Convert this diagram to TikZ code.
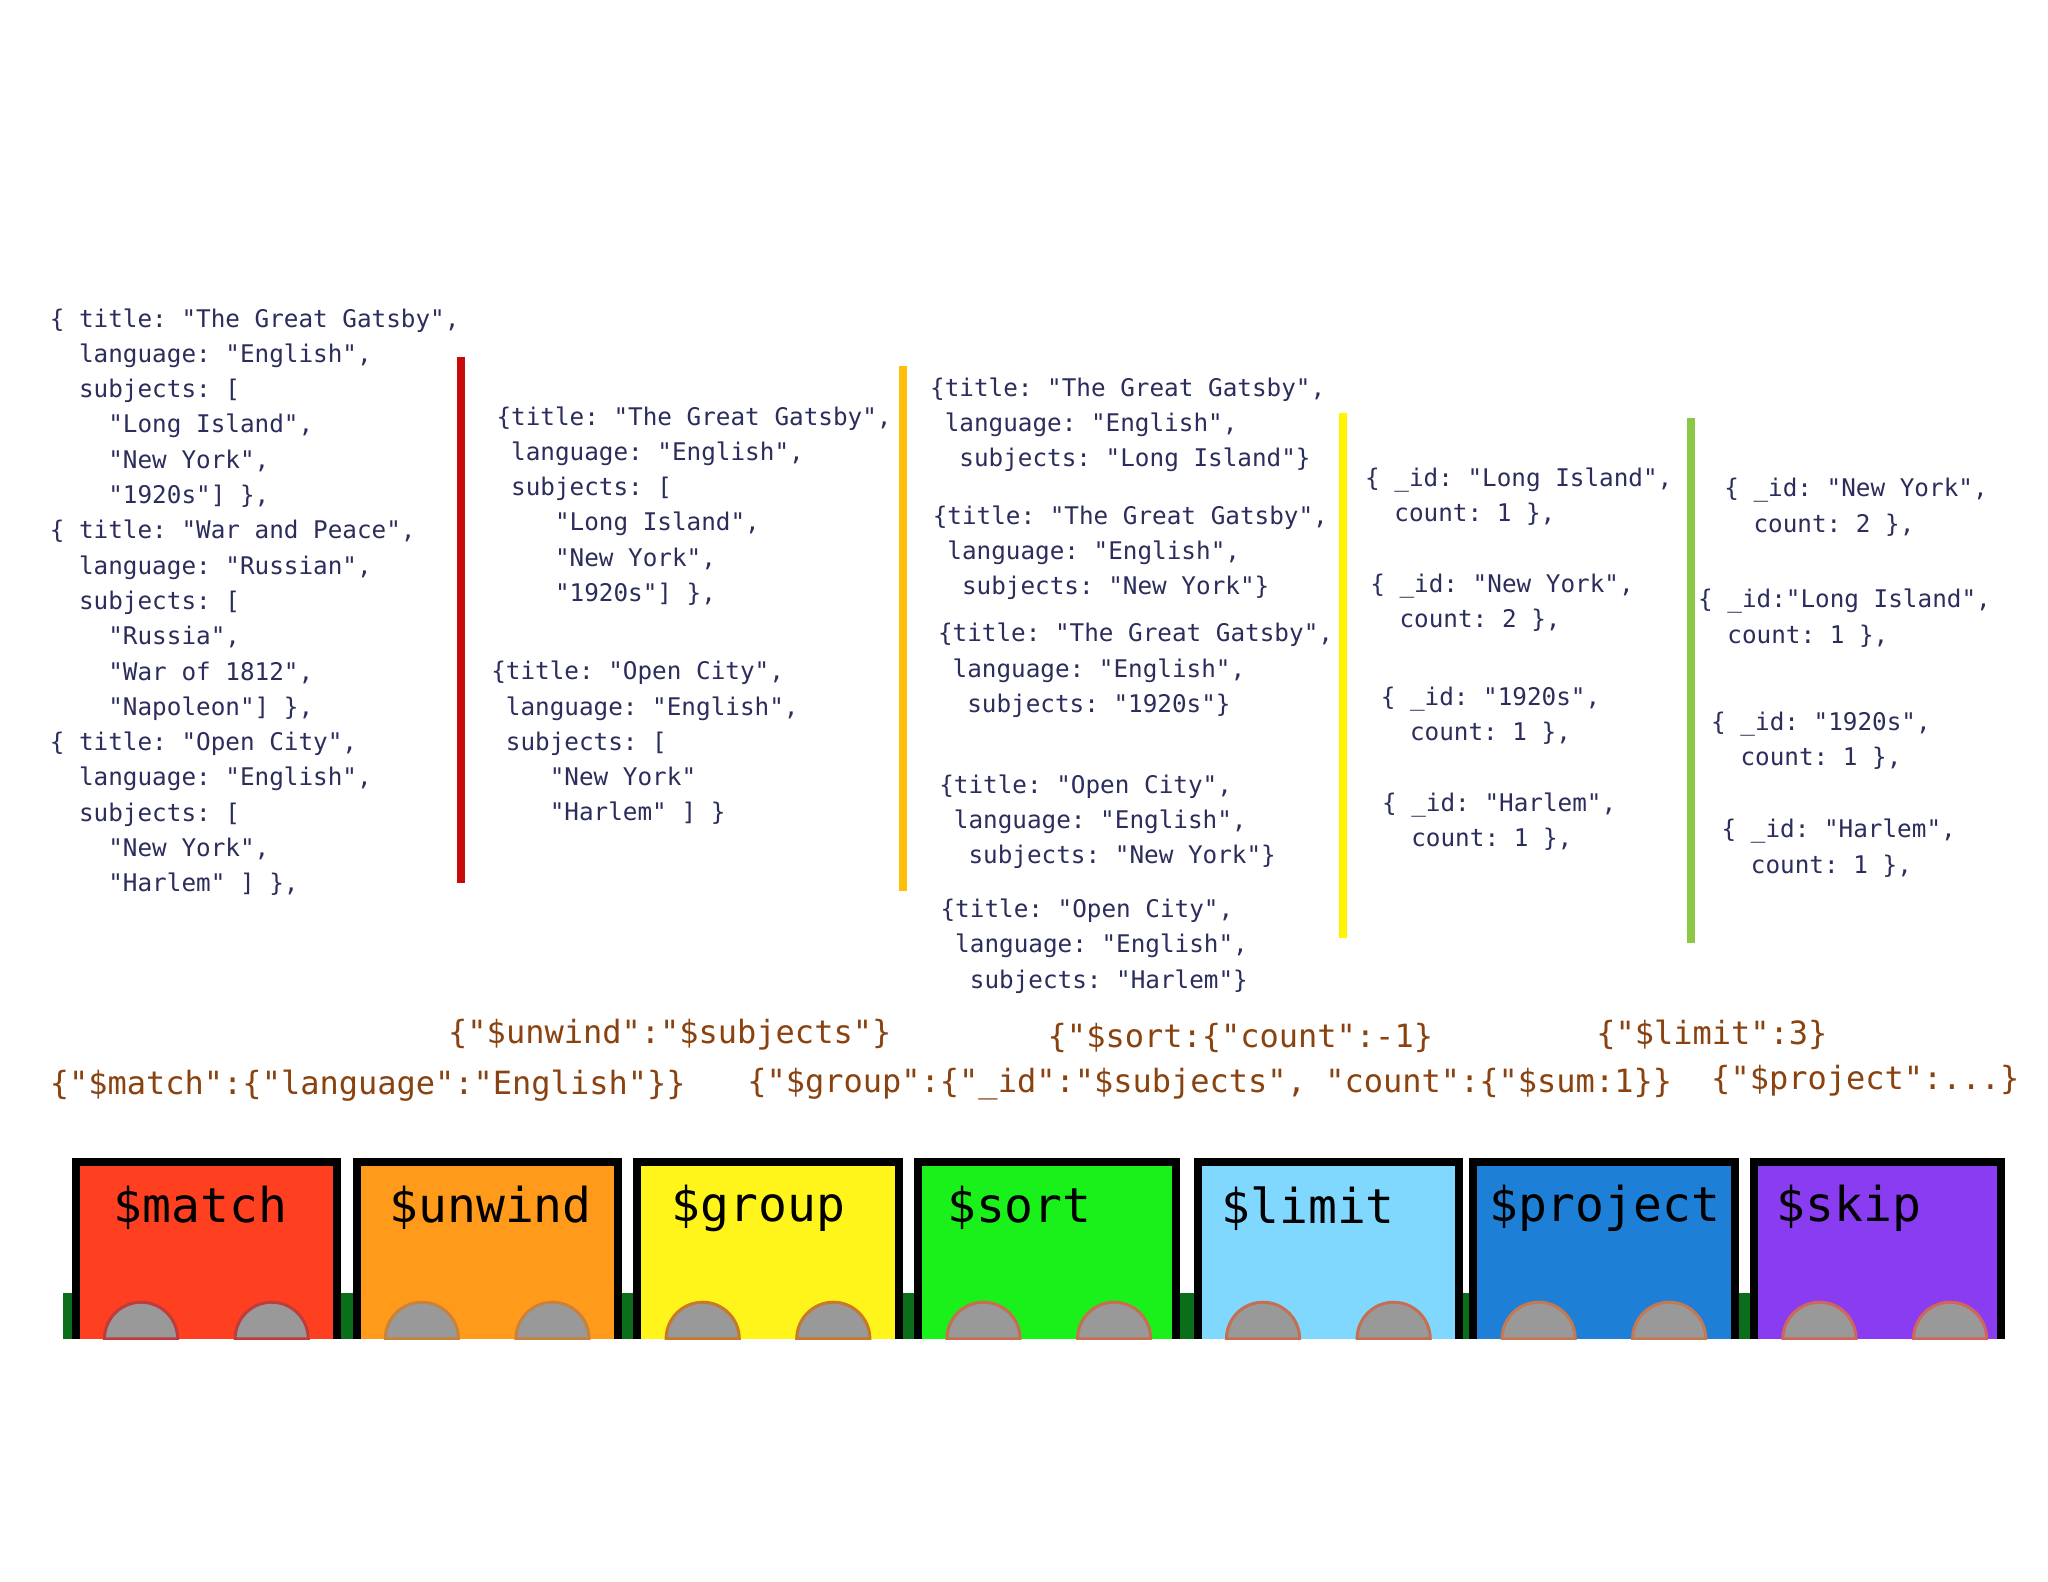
\documentclass[tikz,border=0pt]{standalone}
\usepackage{fontspec}
\setmonofont{DejaVu Sans Mono}
\definecolor{code}{HTML}{2B2D5C}
\definecolor{brown}{HTML}{8A4210}
\definecolor{cgreen}{HTML}{0A6E1A}
\begin{document}
\begin{tikzpicture}[x=1.306pt,y=-1.306pt,
  blk/.style={anchor=north west,inner sep=0pt,align=left,text=code,font=\ttfamily\fontsize{24.3}{35.3}\selectfont},
  op/.style={anchor=west,inner sep=0pt,text=brown,font=\ttfamily\fontsize{32}{34}\selectfont},
  lab/.style={anchor=west,inner sep=0pt,font=\ttfamily\fontsize{48}{52}\selectfont},
  bar/.style={line width=8pt},
  car/.style={line width=8pt,draw=black}]
\useasboundingbox (0,0) rectangle (1568,1211.2);
\fill[white] (0,0) rectangle (1568,1211.2);
% block 1
\node[blk] (b1) at (38,236) {\{ title: "The Great Gatsby",\\
~~language: "English",\\
~~subjects: [\\
~~~~"Long Island",\\
~~~~"New York",\\
~~~~"1920s"] \},\\
\{ title: "War and Peace",\\
~~language: "Russian",\\
~~subjects: [\\
~~~~"Russia",\\
~~~~"War of 1812",\\
~~~~"Napoleon"] \},\\
\{ title: "Open City",\\
~~language: "English",\\
~~subjects: [\\
~~~~"New York",\\
~~~~"Harlem" ] \},};
\draw[bar,draw={rgb,255:red,200;green,10;blue,10}] (353,273) coordinate (r1) -- (353,676) coordinate (r2);
% block 2
\node[blk] (b2a) at (380,311) {\{title: "The Great Gatsby",\\
~language: "English",\\
~subjects: [\\
~~~~"Long Island",\\
~~~~"New York",\\
~~~~"1920s"] \},};
\node[blk] (b2b) at (376,506) {\{title: "Open City",\\
~language: "English",\\
~subjects: [\\
~~~~"New York"\\
~~~~"Harlem" ] \}};
\draw[bar,draw={rgb,255:red,255;green,190;blue,10}] (691,280) coordinate (o1) -- (691,682) coordinate (o2);
% block 3
\node[blk] (b3a) at (712,289) {\{title: "The Great Gatsby",\\~language: "English",\\~~subjects: "Long Island"\}};
\node[blk] (b3b) at (714,387) {\{title: "The Great Gatsby",\\~language: "English",\\~~subjects: "New York"\}};
\node[blk] (b3c) at (718,477) {\{title: "The Great Gatsby",\\~language: "English",\\~~subjects: "1920s"\}};
\node[blk] (b3d) at (719,593) {\{title: "Open City",\\~language: "English",\\~~subjects: "New York"\}};
\node[blk] (b3e) at (720,688) {\{title: "Open City",\\~language: "English",\\~~subjects: "Harlem"\}};
\draw[bar,draw={rgb,255:red,255;green,245;blue,0}] (1028,316) coordinate (y1) -- (1028,718) coordinate (y2);
% block 4
\node[blk] (b4a) at (1045,358) {\{ \_id: "Long Island",\\~~count: 1 \},};
\node[blk] (b4b) at (1049,439) {\{ \_id: "New York",\\~~count: 2 \},};
\node[blk] (b4c) at (1057,526) {\{ \_id: "1920s",\\~~count: 1 \},};
\node[blk] (b4d) at (1058,607) {\{ \_id: "Harlem",\\~~count: 1 \},};
\draw[bar,draw={rgb,255:red,140;green,200;blue,70}] (1295,320) coordinate (g1) -- (1295,722) coordinate (g2);
% block 5
\node[blk] (b5a) at (1320,366) {\{ \_id: "New York",\\~~count: 2 \},};
\node[blk] (b5b) at (1300,451) {\{ \_id:"Long Island",\\~~count: 1 \},};
\node[blk] (b5c) at (1310,545) {\{ \_id: "1920s",\\~~count: 1 \},};
\node[blk] (b5d) at (1318,627) {\{ \_id: "Harlem",\\~~count: 1 \},};
% operators
\node[op] (o-unw) at (343,792) {\{"\$unwind":"\$subjects"\}};
\node[op] (o-sort) at (802,795) {\{"\$sort:\{"count":-1\}};
\node[op] (o-lim) at (1222,792) {\{"\$limit":3\}};
\node[op] (o-match) at (38,831) {\{"\$match":\{"language":"English"\}\}};
\node[op] (o-grp) at (572,830) {\{"\$group":\{"\_id":"\$subjects", "count":\{"\$sum:1\}\}};
\node[op] (o-proj) at (1310,827) {\{"\$project":...\}};
% train
\fill[cgreen] (48,990) rectangle (1532,1025);
\foreach \xa/\xb/\col/\wc/\txt/\nm/\off in {
  58/258/{rgb,255:red,255;green,64;blue,32}/{rgb,255:red,190;green,60;blue,60}/\$match/cm/29,
  273/473/{rgb,255:red,255;green,154;blue,26}/{rgb,255:red,200;green,130;blue,60}/\$unwind/cu/25,
  488/688/{rgb,255:red,255;green,245;blue,26}/{rgb,255:red,200;green,120;blue,40}/\$group/cg/26,
  703/900/{rgb,255:red,26;green,240;blue,26}/{rgb,255:red,200;green,110;blue,80}/\$sort/cs/22,
  917/1117/{rgb,255:red,128;green,216;blue,255}/{rgb,255:red,200;green,110;blue,80}/\$limit/cl/18,
  1128/1328/{rgb,255:red,30;green,127;blue,214}/{rgb,255:red,200;green,120;blue,80}/\$project/cp/12,
  1343/1532/{rgb,255:red,138;green,60;blue,240}/{rgb,255:red,210;green,100;blue,90}/\$skip/ck/17}{
  \fill[fill=\col] (\xa,1025) -- (\xa,890) -- (\xb,890) -- (\xb,1025) -- cycle;
  \draw[car] (\xa,1025) -- (\xa,890) -- (\xb,890) -- (\xb,1025);
  \filldraw[fill=gray!80,draw=\wc,line width=3pt] ({\xa+50},1025) ++(-28,0) arc[start angle=180,end angle=360,radius=28] -- cycle;
  \filldraw[fill=gray!80,draw=\wc,line width=3pt] ({\xa+150},1025) ++(-28,0) arc[start angle=180,end angle=360,radius=28] -- cycle;
  \node[lab] (\nm) at ({\xa+\off},925) {\txt};
}
\fill[white] (0,1026) rectangle (1568,1060);
\end{tikzpicture}
\end{document}
